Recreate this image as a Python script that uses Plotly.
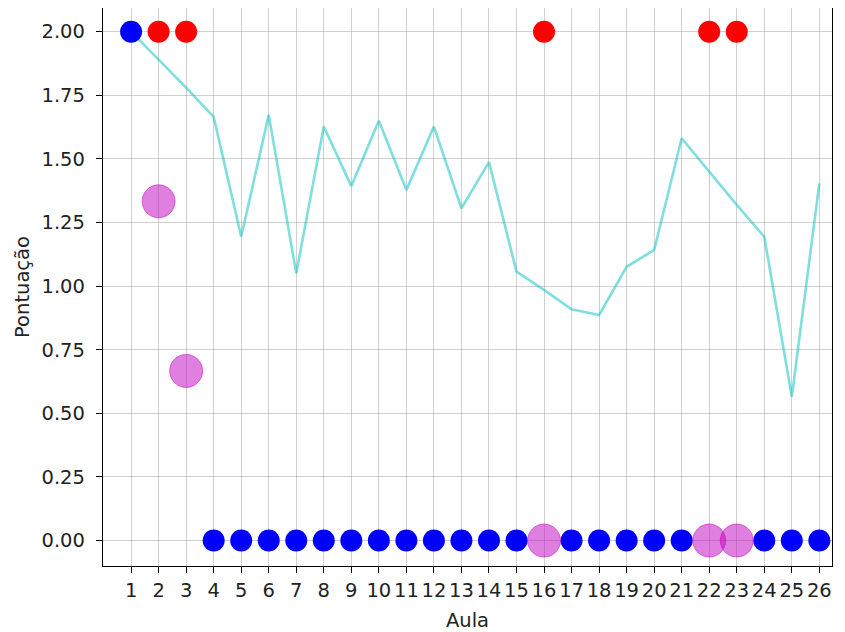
import plotly.graph_objects as go

aulas = list(range(1, 27))
media = [2.0, 1.89, 1.78, 1.665, 1.194, 1.673, 1.05, 1.627, 1.393, 1.65,
         1.378, 1.627, 1.306, 1.487, 1.057, 0.985, 0.909, 0.886, 1.076, 1.142,
         1.581, 1.45, 1.319, 1.194, 0.565, 1.404]

azul_x = [1, 4, 5, 6, 7, 8, 9, 10, 11, 12, 13, 14, 15, 17, 18, 19, 20, 21, 24, 25, 26]
azul_y = [2.0] + [0.0] * 20
verm_x = [2, 3, 16, 22, 23]
verm_y = [2.0, 2.0, 2.0, 2.0, 2.0]
roxo_x = [2, 3, 16, 22, 23]
roxo_y = [1.3333, 0.6667, 0.0, 0.0, 0.0]

yticks = [0.0, 0.25, 0.5, 0.75, 1.0, 1.25, 1.5, 1.75, 2.0]

FONT = dict(family="DejaVu Sans", size=19.5, color="#222")

fig = go.Figure()
fig.add_trace(go.Scatter(x=aulas, y=media, mode="lines",
                         line=dict(color="rgba(0,191,191,0.5)", width=2.6),
                         showlegend=False))
fig.add_trace(go.Scatter(x=azul_x, y=azul_y, mode="markers",
                         marker=dict(color="#0000ff", size=22, line=dict(width=0)),
                         showlegend=False))
fig.add_trace(go.Scatter(x=verm_x, y=verm_y, mode="markers",
                         marker=dict(color="#ff0000", size=22, line=dict(width=0)),
                         showlegend=False))
fig.add_trace(go.Scatter(x=roxo_x, y=roxo_y, mode="markers",
                         marker=dict(color="rgba(191,0,191,0.5)", size=33,
                                     line=dict(width=1, color="rgba(191,0,191,0.5)")),
                         showlegend=False))

axis_common = dict(showline=True, linecolor="black", linewidth=1.3, mirror=True,
                   ticks="outside", ticklen=6, tickcolor="black", tickwidth=1.3,
                   showgrid=True, gridcolor="rgba(150,150,150,0.45)", gridwidth=1,
                   zeroline=False, tickfont=FONT)

fig.update_xaxes(range=[-0.02, 26.46], tickmode="array", tickvals=aulas,
                 ticktext=[str(a) for a in aulas],
                 title=dict(text="Aula", font=FONT, standoff=12),
                 **axis_common)
fig.update_yaxes(range=[-0.1, 2.093], tickmode="array", tickvals=yticks,
                 ticktext=[f"{v:.2f}" for v in yticks],
                 ticklabelstandoff=7,
                 title=dict(text="Pontuação", font=FONT, standoff=6),
                 **axis_common)

fig.update_layout(width=837, height=624, margin=dict(l=95, r=13, t=0, b=66),
                  plot_bgcolor="white", paper_bgcolor="white")

fig.write_html("out.html")
